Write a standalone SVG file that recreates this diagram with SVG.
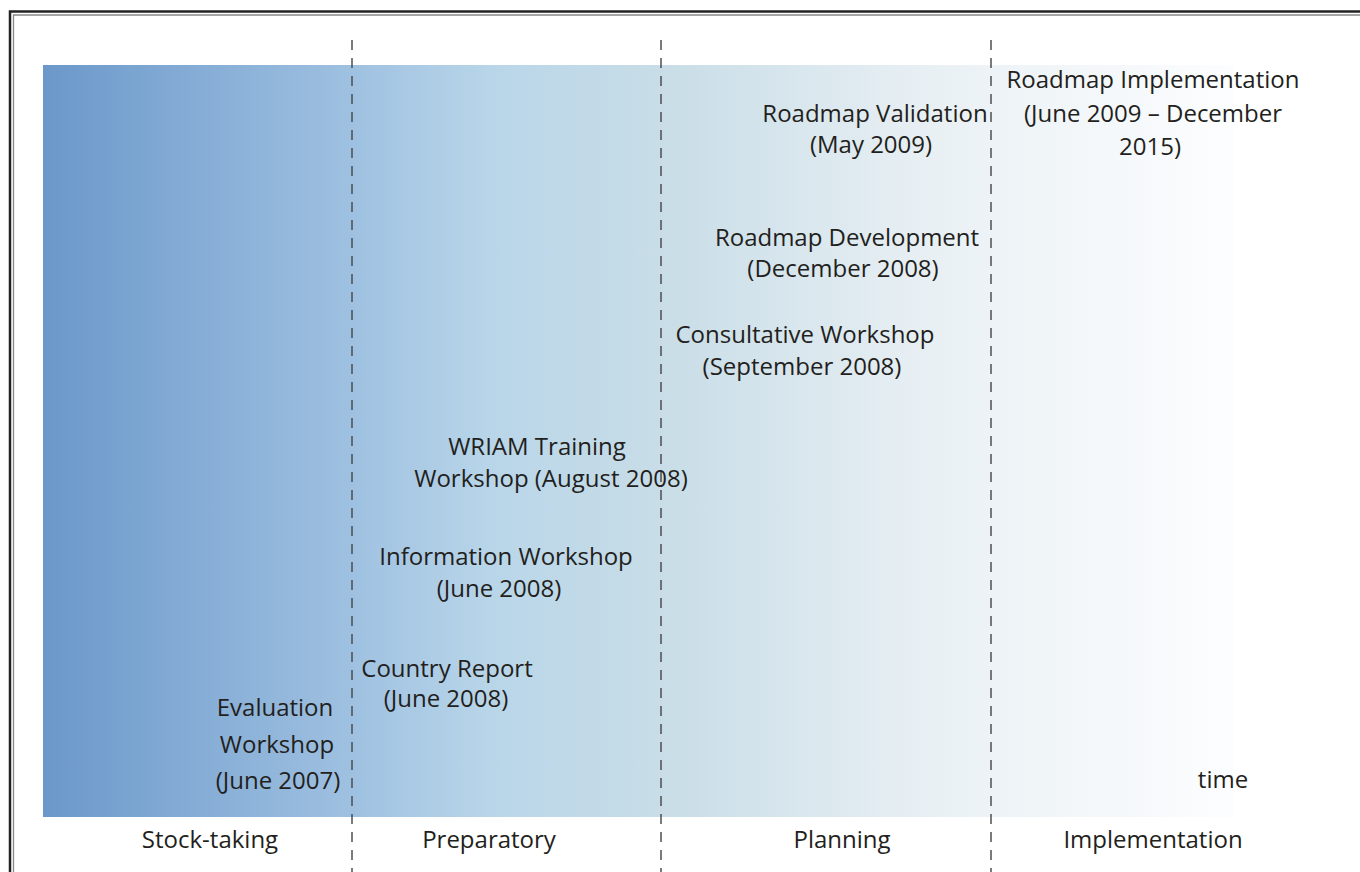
<svg xmlns="http://www.w3.org/2000/svg" width="1360" height="872" viewBox="0 0 1360 872">
<defs>
<linearGradient id="bg" x1="43" y1="0" x2="1233" y2="0" gradientUnits="userSpaceOnUse">
<stop offset="0" stop-color="#6b98ca"/>
<stop offset="0.26" stop-color="#9fc1e1"/>
<stop offset="0.38" stop-color="#b9d6e9"/>
<stop offset="0.52" stop-color="#c8dde7"/>
<stop offset="0.75" stop-color="#e9f0f4"/>
<stop offset="0.88" stop-color="#f3f7fa"/>
<stop offset="1" stop-color="#fcfdfe"/>
</linearGradient>
<style>
text{font-family:"Open Sans","Noto Sans","DejaVu Sans",sans-serif;font-size:24px;fill:#231f20;text-anchor:middle}
.d{stroke:#444;stroke-width:1.4;stroke-dasharray:10 8;fill:none}
</style>
</defs>
<rect width="1360" height="872" fill="#fff"/>
<g id="frame" fill="none">
<path d="M10 872 V11.5 H1360" stroke="#222" stroke-width="2.5"/>
<path d="M13.5 872 V15 H1360" stroke="#888" stroke-width="1.3"/>
</g>
<rect id="band" x="43" y="65" width="1190" height="752" fill="url(#bg)"/>
<g id="dividers">
<line class="d" x1="352" y1="40" x2="352" y2="872"/>
<line class="d" x1="661" y1="40" x2="661" y2="872"/>
<line class="d" x1="991" y1="40" x2="991" y2="872"/>
</g>
<g id="connectors"></g>
<g id="impl"><text x="1153" y="88">Roadmap Implementation</text><text x="1153" y="122">(June 2009 – December</text><text x="1150" y="155">2015)</text></g>
<g id="validation"><text x="875" y="122">Roadmap Validation</text><text x="871" y="153">(May 2009)</text></g>
<g id="development"><text x="847" y="246">Roadmap Development</text><text x="843" y="277">(December 2008)</text></g>
<g id="consultative"><text x="805" y="343">Consultative Workshop</text><text x="802" y="375">(September 2008)</text></g>
<g id="wriam"><text x="537" y="455">WRIAM Training</text><text x="551" y="487">Workshop (August 2008)</text></g>
<g id="information"><text x="506" y="565">Information Workshop</text><text x="499" y="597">(June 2008)</text></g>
<g id="country"><text x="447" y="677">Country Report</text><text x="446" y="707">(June 2008)</text></g>
<g id="evaluation"><text x="275" y="716">Evaluation</text><text x="277" y="753">Workshop</text><text x="278" y="789">(June 2007)</text></g>
<g id="time"><text x="1223" y="788">time</text></g>
<g id="phases"><text x="210" y="848">Stock-taking</text><text x="489" y="848">Preparatory</text><text x="842" y="848">Planning</text><text x="1153" y="848">Implementation</text></g>
</svg>
